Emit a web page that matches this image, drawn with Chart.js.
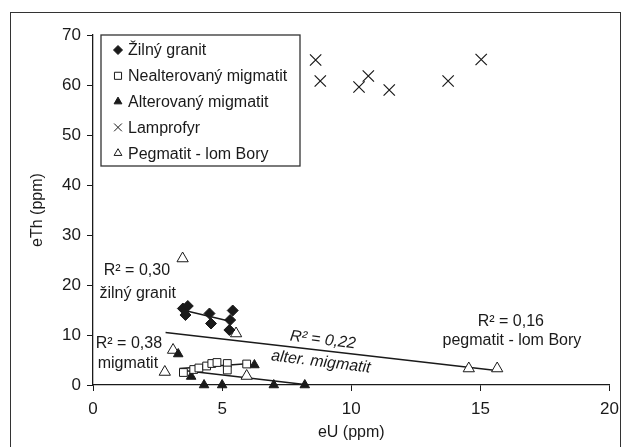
<!DOCTYPE html>
<html>
<head>
<meta charset="utf-8">
<script src="https://cdn.jsdelivr.net/npm/chart.js@4.4.1/dist/chart.umd.min.js"></script>
<style>
html, body { margin: 0; padding: 0; background: #fff; }
#wrap { position: relative; width: 627px; height: 447px; overflow: hidden; }
#frame { position: absolute; left: 10px; top: 12px; width: 611px; height: 470px; border: 1.5px solid #333; box-sizing: border-box; }
canvas { position: absolute; left: 0; top: 0; }
</style>
</head>
<body>
<div id="wrap">
  <div id="frame"></div>
  <canvas id="chart" width="627" height="447"></canvas>
</div>
<script>
// data (eU, eTh in ppm)
const granitU = [3.48, 3.67, 3.58, 4.51, 4.57, 5.41, 5.31, 5.28];
const granitTh = [15.3, 15.8, 14.0, 14.3, 12.3, 14.9, 13.0, 11.0];
const nealtU = [3.5, 3.9, 4.1, 4.4, 4.6, 4.8, 5.2, 5.2, 5.95];
const nealtTh = [2.5, 3.1, 3.4, 3.8, 4.3, 4.5, 4.3, 3.0, 4.2];
const altU = [3.3, 3.8, 4.3, 5.0, 6.25, 7.0, 8.2];
const altTh = [6.2, 1.7, 0, 0, 4.0, 0, 0];
const lampU = [8.62, 8.80, 10.30, 10.66, 11.47, 13.75, 15.03];
const lampTh = [65.0, 60.8, 59.6, 61.8, 59.0, 60.8, 65.1];
const pegU = [3.47, 5.54, 3.1, 2.78, 5.95, 14.55, 15.65];
const pegTh = [25.3, 10.3, 7.0, 2.6, 1.8, 3.3, 3.3];

// trend lines (end points)
const fitGranitU = [3.55, 5.34], fitGranitTh = [14.9, 12.7];
const fitNealtU = [3.35, 6.1], fitNealtTh = [3.3, 4.3];
const fitAltU = [3.35, 8.2], fitAltTh = [3.0, 0.1];
const fitPegU = [2.81, 15.62], fitPegTh = [10.5, 2.9];

const seriesNames = ["Žilný granit", "Nealterovaný migmatit", "Alterovaný migmatit", "Lamprofyr", "Pegmatit - lom Bory"];
const xTicks = [0, 5, 10, 15, 20];
const yTicks = [0, 10, 20, 30, 40, 50, 60, 70];

// R² notes: text, x, y (data units), angle
const noteText = ["R² = 0,30", "žilný granit", "R² = 0,38", "migmatit", "R² = 0,22", "alter. migmatit", "R² = 0,16", "pegmatit - lom Bory"];
const noteX = [1.70, 1.73, 1.39, 1.35, 8.9, 8.82, 16.18, 16.22];
const noteY = [22.8, 18.2, 8.2, 4.2, 9.0, 4.6, 12.6, 8.8];
const noteAngle = [0, 0, 0, 0, 7, 7, 0, 0];

const INK = "#1a1a1a";
const FONT = "'Liberation Sans', Arial, sans-serif";

function pts(xs, ys) {
    return xs.map((x, i) => ({ x: x, y: ys[i] }));
}

function fitLine(xs, ys) {
    return {
        data: pts(xs, ys),
        showLine: true,
        borderColor: INK,
        borderWidth: 1.3,
        pointRadius: 0,
        fill: false,
        clip: false,
        isFit: true
    };
}

const datasets = [
    { label: seriesNames[0], data: pts(granitU, granitTh), pointStyle: "rectRot", pointRadius: 5.5,
      backgroundColor: INK, borderColor: INK, borderWidth: 1, clip: false },
    { label: seriesNames[1], data: pts(nealtU, nealtTh), pointStyle: "rect", pointRadius: 5.5,
      backgroundColor: "#fff", borderColor: INK, borderWidth: 1, clip: false },
    { label: seriesNames[2], data: pts(altU, altTh), pointStyle: "triangle", pointRadius: 5.5,
      backgroundColor: INK, borderColor: INK, borderWidth: 1, clip: false },
    { label: seriesNames[3], data: pts(lampU, lampTh), pointStyle: "crossRot", pointRadius: 8,
      backgroundColor: INK, borderColor: INK, borderWidth: 1.2, clip: false },
    { label: seriesNames[4], data: pts(pegU, pegTh), pointStyle: "triangle", pointRadius: 6.5,
      backgroundColor: "#fff", borderColor: INK, borderWidth: 1, clip: false },
    fitLine(fitGranitU, fitGranitTh),
    fitLine(fitNealtU, fitNealtTh),
    fitLine(fitAltU, fitAltTh),
    fitLine(fitPegU, fitPegTh)
];
// draw fit lines under the markers
datasets.forEach(d => { d.order = d.isFit ? 10 : 1; });

// boxed legend inside the plot, top left
const boxLegend = {
    id: "boxLegend",
    afterDraw(chart) {
        const ctx = chart.ctx;
        const a = chart.chartArea;
        const bx = a.left + 8, by = a.top, bw = 199, bh = 131;
        ctx.save();
        ctx.fillStyle = "#fff";
        ctx.fillRect(bx, by, bw, bh);
        ctx.strokeStyle = "#333";
        ctx.lineWidth = 1.3;
        ctx.strokeRect(bx, by, bw, bh);
        ctx.font = "16px " + FONT;
        ctx.textBaseline = "middle";
        seriesNames.forEach((name, i) => {
            const ds = chart.data.datasets[i];
            const y = by + 15 + i * 25.8;
            ctx.fillStyle = ds.backgroundColor;
            ctx.strokeStyle = ds.borderColor;
            ctx.lineWidth = 1;
            Chart.helpers.drawPoint(ctx, {
                pointStyle: ds.pointStyle,
                radius: ds.pointStyle === "crossRot" ? 5.5 : (ds.pointStyle === "rect" ? 5 : 4.5),
                rotation: 0,
                borderWidth: 1
            }, bx + 17, y);
            ctx.fillStyle = INK;
            ctx.fillText(name, bx + 27, y + 1);
        });
        ctx.restore();
    }
};

// R² notes placed in data units
const notes = {
    id: "notes",
    afterDatasetsDraw(chart) {
        const ctx = chart.ctx;
        const xs = chart.scales.x, ys = chart.scales.y;
        ctx.save();
        ctx.fillStyle = INK;
        ctx.textAlign = "center";
        ctx.textBaseline = "middle";
        noteText.forEach((t, i) => {
            ctx.save();
            ctx.translate(xs.getPixelForValue(noteX[i]), ys.getPixelForValue(noteY[i]));
            ctx.rotate(noteAngle[i] * Math.PI / 180);
            ctx.font = (noteAngle[i] ? "italic " : "") + "16px " + FONT;
            ctx.fillText(t, 0, 0);
            ctx.restore();
        });
        ctx.restore();
    }
};

new Chart(document.getElementById("chart"), {
    type: "scatter",
    data: { datasets: datasets },
    options: {
        responsive: false,
        animation: false,
        layout: { padding: { left: 0, top: 35, right: 15, bottom: 0 } },
        plugins: {
            legend: { display: false },
            tooltip: { enabled: false }
        },
        scales: {
            x: {
                type: "linear",
                min: 0, max: 20,
                afterBuildTicks: s => { s.ticks = xTicks.map(v => ({ value: v })); },
                afterFit: s => { s.height = 62; },
                ticks: { color: INK, font: { family: FONT, size: 17 }, padding: 8 },
                grid: { drawOnChartArea: false, color: INK, tickLength: 6, tickColor: INK },
                border: { color: INK, width: 1.3 },
                title: { display: true, text: "eU (ppm)", color: INK,
                         font: { family: FONT, size: 16, lineHeight: 1.2 }, padding: { bottom: 5 } }
            },
            y: {
                type: "linear",
                min: 0, max: 70,
                afterBuildTicks: s => { s.ticks = yTicks.map(v => ({ value: v })); },
                afterFit: s => { s.width = 93; },
                ticks: { color: INK, font: { family: FONT, size: 17 }, padding: 6 },
                grid: { drawOnChartArea: false, color: INK, tickLength: 6, tickColor: INK },
                border: { color: INK, width: 1.3 },
                title: { display: true, text: "eTh (ppm)", color: INK,
                         font: { family: FONT, size: 16, lineHeight: 1.2 }, padding: { top: 28 } }
            }
        }
    },
    plugins: [notes, boxLegend]
});
</script>
</body>
</html>
